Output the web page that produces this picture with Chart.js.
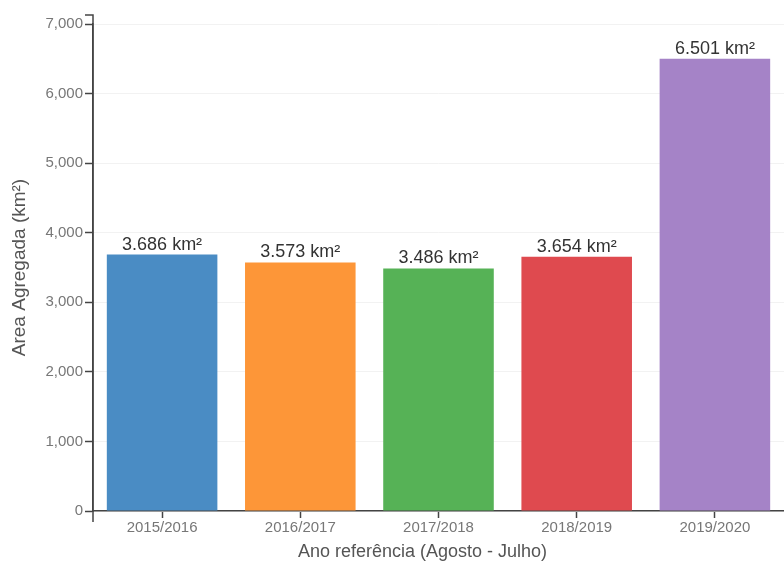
<!DOCTYPE html>
<html>
<head>
<meta charset="utf-8">
<script src="https://cdn.jsdelivr.net/npm/chart.js@4.4.1/dist/chart.umd.min.js"></script>
<style>
    html, body { margin: 0; padding: 0; background: #fff; }
    #wrap { width: 784px; height: 573px; }
</style>
</head>
<body>
<div id="wrap"><canvas id="chart" width="784" height="573"></canvas></div>
<script>
// 데이터
const anos = ['2015/2016', '2016/2017', '2017/2018', '2018/2019', '2019/2020'];
const areas = [3686, 3573, 3486, 3654, 6501];
const cores = ['#4a8cc4', '#fd9638', '#56b256', '#df4a4f', '#a583c7'];
const yTicks = [0, 1000, 2000, 3000, 4000, 5000, 6000, 7000];
const xTitulo = 'Ano referência (Agosto - Julho)';

const fonte = '"Liberation Sans", Arial, sans-serif';

// 막대 위 라벨
const labelPlugin = {
    id: 'barLabels',
    afterDatasetsDraw(chart) {
        const ctx = chart.ctx;
        const meta = chart.getDatasetMeta(0);
        ctx.save();
        ctx.font = '18px ' + fonte;
        ctx.fillStyle = '#333';
        ctx.textAlign = 'center';
        ctx.textBaseline = 'alphabetic';
        meta.data.forEach(function (bar, i) {
            let txt = areas[i].toLocaleString('de-DE') + ' km²';
            ctx.fillText(txt, bar.x, bar.y - 5);
        });
        ctx.restore();
    }
};

// 축 끝 (outer tick) + x축 제목
const axisEnds = {
    id: 'axisEnds',
    afterDraw(chart) {
        const ctx = chart.ctx;
        const a = chart.chartArea;
        ctx.save();
        ctx.strokeStyle = '#444';
        ctx.lineWidth = 1.5;
        ctx.beginPath();
        ctx.moveTo(a.left - 8, a.top - 9);
        ctx.lineTo(a.left, a.top - 9);
        ctx.lineTo(a.left, a.bottom + 11);
        ctx.stroke();
        // x축 제목 (원본처럼 약간 왼쪽)
        ctx.font = '18px ' + fonte;
        ctx.fillStyle = '#555';
        ctx.textAlign = 'center';
        ctx.textBaseline = 'middle';
        ctx.fillText(xTitulo, (a.left + a.right) / 2 - 16, 552);
        ctx.restore();
    }
};

new Chart(document.getElementById('chart'), {
    type: 'bar',
    data: {
        labels: anos,
        datasets: [{
            data: areas,
            backgroundColor: cores,
            barPercentage: 0.8,
            categoryPercentage: 1.0
        }]
    },
    options: {
        responsive: false,
        animation: false,
        layout: { padding: { top: 24, right: 0, left: 4, bottom: 0 } },
        plugins: { legend: { display: false }, tooltip: { enabled: false } },
        scales: {
            x: {
                grid: { display: true, drawOnChartArea: false, offset: false, tickLength: 7, tickColor: '#444', tickWidth: 1.5 },
                border: { color: '#444', width: 1.5 },
                ticks: { color: '#777', font: { size: 15, family: fonte }, padding: 1 },
                afterFit: function (s) { s.height = 62; }
            },
            y: {
                min: 0,
                max: 7000,
                afterBuildTicks: function (s) { s.ticks = yTicks.map(v => ({ value: v })); },
                grid: { color: '#f2f2f2', tickLength: 8, tickColor: '#444', tickWidth: 1.5 },
                border: { color: '#444', width: 1.5 },
                ticks: {
                    color: '#777', font: { size: 15, family: fonte }, padding: 2,
                    callback: function (v) { return v.toLocaleString('en-US'); }
                },
                title: { display: true, text: 'Area Agregada (km²)', color: '#555', font: { size: 19, family: fonte } },
                afterFit: function (s) { s.width = 89; }
            }
        }
    },
    plugins: [labelPlugin, axisEnds]
});
</script>
</body>
</html>
